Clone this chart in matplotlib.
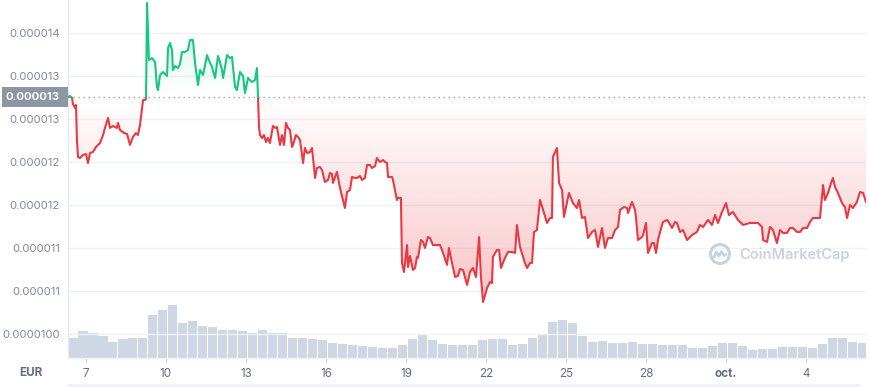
import numpy as np
import matplotlib
matplotlib.use("Agg")
import matplotlib.pyplot as plt
from matplotlib.patches import Rectangle, Circle
from matplotlib.lines import Line2D

plt.rcParams['font.family'] = ['Inter', 'DejaVu Sans']

# ---------------- data ----------------
# time in days of September (31 = 1 Oct)
day = [6.325, 6.40, 6.475, 6.51, 6.59, 6.625, 6.66, 6.70, 6.775, 6.89, 7.00, 7.075, 7.15, 7.26, 7.375,
       7.525, 7.64, 7.71, 7.825, 7.90, 8.01, 8.16, 8.20, 8.275, 8.425, 8.54, 8.65, 8.76, 8.875, 8.95,
       9.025, 9.14, 9.21, 9.25, 9.29, 9.325, 9.36, 9.475, 9.59, 9.66, 9.70, 9.775, 9.89, 10.04, 10.075,
       10.15, 10.225, 10.26, 10.34, 10.45, 10.525, 10.60, 10.71, 10.825, 10.90, 11.01, 11.09, 11.20,
       11.275, 11.39, 11.54, 11.575, 11.725, 11.84, 11.95, 12.025, 12.10, 12.14, 12.29, 12.40, 12.475,
       12.59, 12.66, 12.775, 12.89, 12.96, 13.075, 13.225, 13.34, 13.41, 13.45, 13.49, 13.525, 13.60,
       13.675, 13.75, 13.825, 13.90, 14.01, 14.09, 14.16, 14.275, 14.35, 14.425, 14.50, 14.575, 14.65,
       14.725, 14.76, 14.875, 14.95, 15.025, 15.14, 15.21, 15.29, 15.40, 15.475, 15.59, 15.66, 15.775,
       15.85, 15.96, 16.075, 16.15, 16.225, 16.26, 16.41, 16.525, 16.71, 16.79, 16.90, 16.975, 17.09,
       17.16, 17.275, 17.35, 17.46, 17.54, 17.65, 17.725, 17.84, 17.91, 18.025, 18.14, 18.21, 18.29,
       18.325, 18.475, 18.51, 18.66, 18.70, 18.81, 18.85, 18.925, 19.04, 19.075, 19.15, 19.26, 19.34,
       19.41, 19.45, 19.56, 19.64, 19.71, 19.825, 19.90, 20.01, 20.125, 20.275, 20.39, 20.54, 20.61,
       20.725, 20.84, 20.95, 21.025, 21.14, 21.29, 21.40, 21.51, 21.625, 21.74, 21.81, 21.89, 22.04,
       22.15, 22.225, 22.26, 22.41, 22.49, 22.56, 22.71, 22.825, 22.975, 23.09, 23.16, 23.275, 23.46,
       23.54, 23.65, 23.725, 23.80, 23.91, 24.025, 24.14, 24.29, 24.40, 24.475, 24.51, 24.66, 24.74,
       24.85, 24.925, 25.04, 25.11, 25.26, 25.41, 25.49, 25.60, 25.71, 25.825, 25.975, 26.09, 26.20,
       26.35, 26.46, 26.575, 26.725, 26.84, 26.95, 27.025, 27.175, 27.29, 27.325, 27.475, 27.59, 27.625,
       27.70, 27.85, 27.89, 28.00, 28.075, 28.225, 28.30, 28.375, 28.45, 28.60, 28.64, 28.79, 28.825,
       28.975, 29.09, 29.16, 29.275, 29.39, 29.54, 29.725, 29.91, 30.025, 30.14, 30.325, 30.475, 30.59,
       30.70, 30.85, 31.00, 31.11, 31.26, 31.45, 31.64, 31.90, 32.09, 32.20, 32.35, 32.39, 32.54, 32.65,
       32.76, 32.91, 33.025, 33.14, 33.29, 33.40, 33.51, 33.66, 33.775, 33.89, 34.04, 34.15, 34.26,
       34.41, 34.525, 34.60, 34.64, 34.71, 34.825, 34.94, 35.01, 35.09, 35.20, 35.35, 35.46, 35.54,
       35.65, 35.76, 35.91, 36.025, 36.14, 36.25]

# price in 1e-6 EUR
price = [13.256, 13.268, 13.244, 13.175, 13.128, 13.163, 12.756, 12.558, 12.547, 12.582, 12.593, 12.488,
         12.605, 12.616, 12.675, 12.721, 12.814, 12.896, 13.012, 12.896, 12.919, 12.896, 12.954, 12.872,
         12.837, 12.826, 12.698, 12.791, 12.837, 12.814, 12.930, 13.221, 13.221, 13.233, 14.349, 14.000,
         13.686, 13.709, 13.663, 13.372, 13.337, 13.512, 13.547, 13.500, 13.826, 13.884, 13.802, 13.570,
         13.616, 13.593, 13.640, 13.779, 13.779, 13.802, 13.919, 13.919, 13.651, 13.395, 13.570, 13.512,
         13.744, 13.709, 13.605, 13.477, 13.733, 13.663, 13.570, 13.477, 13.744, 13.709, 13.721, 13.372,
         13.337, 13.547, 13.500, 13.302, 13.477, 13.430, 13.454, 13.593, 13.256, 12.896, 12.814, 12.779,
         12.814, 12.733, 12.779, 12.721, 12.919, 12.896, 12.907, 12.698, 12.814, 12.698, 12.954, 12.896,
         12.872, 12.675, 12.698, 12.814, 12.791, 12.756, 12.488, 12.663, 12.605, 12.616, 12.663, 12.314,
         12.430, 12.442, 12.407, 12.268, 12.291, 12.372, 12.361, 12.256, 12.384, 12.198, 11.965, 12.151,
         12.175, 12.326, 12.314, 12.314, 12.337, 12.291, 12.314, 12.465, 12.465, 12.430, 12.454, 12.547,
         12.500, 12.523, 12.500, 12.488, 12.326, 12.326, 12.291, 12.058, 12.082, 12.082, 11.326, 11.221,
         11.535, 11.279, 11.407, 11.244, 11.268, 11.396, 11.384, 11.593, 11.570, 11.500, 11.628, 11.616,
         11.535, 11.535, 11.535, 11.442, 11.303, 11.500, 11.326, 11.163, 11.175, 11.256, 11.244, 11.070,
         11.221, 11.268, 11.163, 11.628, 11.163, 10.872, 11.035, 11.105, 11.093, 11.396, 11.477, 11.477,
         11.268, 11.384, 11.454, 11.454, 11.442, 11.768, 11.512, 11.326, 11.268, 11.326, 11.326, 11.686,
         11.709, 12.058, 11.942, 11.791, 11.849, 11.849, 12.558, 12.663, 12.256, 12.175, 11.861, 12.035,
         12.140, 12.023, 11.965, 12.058, 11.849, 11.861, 11.616, 11.686, 11.709, 11.512, 11.733, 11.500,
         11.616, 11.616, 11.709, 11.744, 11.942, 11.977, 11.965, 11.907, 12.035, 11.942, 11.849, 11.593,
         11.628, 11.651, 11.791, 11.442, 11.558, 11.558, 11.442, 11.593, 11.768, 11.803, 11.826, 11.814,
         11.733, 11.803, 11.791, 11.686, 11.709, 11.593, 11.651, 11.686, 11.768, 11.744, 11.826, 11.768,
         11.884, 11.791, 11.919, 12.023, 11.884, 11.919, 11.826, 11.768, 11.791, 11.791, 11.791, 11.744,
         11.593, 11.570, 11.744, 11.709, 11.558, 11.709, 11.675, 11.675, 11.733, 11.733, 11.686, 11.686,
         11.733, 11.733, 11.803, 11.849, 11.849, 11.849, 12.093, 12.233, 12.058, 12.140, 12.256, 12.314,
         12.209, 12.140, 12.023, 11.977, 11.849, 12.000, 11.965, 12.035, 12.151, 12.140, 12.035]

ref_price = 13.256          # opening price (dotted reference line)
ref_label = "0.000013"

# volume (relative units), one bar every 9 hours starting at 6.5125
vol_start = 6.5125
vol_step = 0.375
volume = [20, 27, 25, 22, 16, 19, 20, 20, 43, 48, 53, 35, 37, 32, 31, 28, 28, 27, 25, 28,
          25, 25, 20, 20, 19, 18, 15, 14, 13, 12, 11, 10, 10, 13, 19, 24, 18, 14, 13, 13,
          13, 18, 19, 19, 13, 14, 20, 23, 36, 38, 35, 22, 16, 17, 15, 15, 16, 14, 14, 13,
          13, 13, 10, 10, 12, 15, 15, 12, 8, 9, 9, 11, 11, 11, 10, 14, 20, 20, 16, 15]

ytick_vals = [14.0, 13.5, 13.0, 12.5, 12.0, 11.5, 11.0, 10.5]
ytick_labels = ["0.000014", "0.000013", "0.000013", "0.000012", "0.000012",
                "0.000011", "0.000011", "0.0000100"]
xtick_vals = [7, 10, 13, 16, 19, 22, 25, 28, 31, 34]
xtick_labels = ["7", "10", "13", "16", "19", "22", "25", "28", "oct.", "4"]

# ---------------- style ----------------
RED = "#ea3943"
GREEN = "#16c784"
GRID = "#eff1f5"
LABEL = "#808a9d"
XLABEL = "#616e85"
VOLC = "#cfd6e4"

W, H = 870, 387
fig = plt.figure(figsize=(W / 100, H / 100), dpi=100)
rect = [68 / W, 29 / H, 798 / W, 358 / H]

vax = fig.add_axes(rect)
ax = fig.add_axes(rect)
vax.set_zorder(0)
ax.set_zorder(1)
ax.patch.set_visible(False)

xlim = (6.325, 36.25)
ylim = (10.221, 14.384)

# volume bars
vd = vol_start + vol_step * np.arange(len(volume))
vax.bar(vd, volume, width=vol_step * 0.9, color=VOLC, align='center', linewidth=0)
vax.set_xlim(*xlim)
vax.set_ylim(0, 358)
vax.axis('off')

# price line with crossing interpolation
d = np.array(day)
p = np.array(price)
xs, ys = [d[0]], [p[0]]
for i in range(1, len(d)):
    if (p[i - 1] - ref_price) * (p[i] - ref_price) < 0:
        t = (ref_price - p[i - 1]) / (p[i] - p[i - 1])
        xs.append(d[i - 1] + t * (d[i] - d[i - 1]))
        ys.append(ref_price)
    xs.append(d[i])
    ys.append(p[i])
xs = np.array(xs)
ys = np.array(ys)
up = np.where(ys >= ref_price, ys, np.nan)
dn = np.where(ys <= ref_price, ys, np.nan)

# gradient fills
poly_dn = ax.fill_between(xs, np.minimum(ys, ref_price), ref_price, color='none', linewidth=0)
poly_up = ax.fill_between(xs, np.maximum(ys, ref_price), ref_price, color='none', linewidth=0)

n = 256
red_rgba = np.zeros((n, 1, 4))
red_rgba[..., :3] = matplotlib.colors.to_rgb(RED)
red_rgba[:, 0, 3] = np.linspace(0.30, 0.0, n)  # bottom -> top
ymin = p.min()
im1 = ax.imshow(red_rgba, extent=[xlim[0], xlim[1], ymin, ref_price], origin='lower',
                aspect='auto', zorder=1, interpolation='bilinear')
im1.set_clip_path(poly_dn.get_paths()[0], transform=ax.transData)

green_rgba = np.zeros((n, 1, 4))
green_rgba[..., :3] = matplotlib.colors.to_rgb(GREEN)
green_rgba[:, 0, 3] = np.linspace(0.0, 0.20, n)
ymax = p.max()
im2 = ax.imshow(green_rgba, extent=[xlim[0], xlim[1], ref_price, ymax], origin='lower',
                aspect='auto', zorder=1, interpolation='bilinear')
im2.set_clip_path(poly_up.get_paths()[0], transform=ax.transData)

ax.plot(xs, dn, color=RED, lw=1.5, zorder=3, solid_joinstyle='round')
ax.plot(xs, up, color=GREEN, lw=1.5, zorder=3, solid_joinstyle='round')

ax.axhline(ref_price, color="#9aa0ab", lw=1.0, ls=(0, (1, 2.6)), zorder=2)

ax.set_xlim(*xlim)
ax.set_ylim(*ylim)

# grid
for v in ytick_vals:
    ax.axhline(v, color=GRID, lw=1.0, zorder=0.5)

ax.set_yticks(ytick_vals)
ax.set_yticklabels(ytick_labels)
ax.tick_params(axis='y', length=0, pad=5.8, labelsize=8.2, labelcolor=LABEL)
ax.set_xticks(xtick_vals)
ax.set_xticklabels(xtick_labels)
ax.tick_params(axis='x', length=3, width=0.8, color="#c5cad3", pad=4.5,
               labelsize=8.4, labelcolor=XLABEL)
for lab in ax.get_xticklabels():
    if lab.get_text() == "oct.":
        lab.set_fontweight('bold')

for s in ['top', 'right']:
    ax.spines[s].set_visible(False)
ax.spines['left'].set_color("#e6e9ee")
ax.spines['left'].set_linewidth(1.0)
ax.spines['bottom'].set_color("#eef0f4")
ax.spines['bottom'].set_linewidth(1.0)

# reference price label box
fig.patches.append(Rectangle((2 / W, 1 - 107 / H), 66 / W, 20 / H, transform=fig.transFigure,
                             facecolor="#8e96a3", edgecolor='none', zorder=5))
fig.text(60 / W, 1 - 97.5 / H, ref_label, ha='right', va='center', color='white',
         fontsize=8.2, fontweight='bold', zorder=6)

# EUR label
fig.text(31 / W, 1 - 373 / H, "EUR", ha='center', va='center', color=XLABEL,
         fontsize=8.4, fontweight='bold')

# bottom slider band
fig.patches.append(Rectangle((68 / W, 0), 792 / W, 3 / H, transform=fig.transFigure,
                             facecolor="#eef2fb", edgecolor='none'))

# watermark
wm = "#cbd2de"
cx, cy, r = 720 / 100, (H - 254) / 100, 0.095
fig.patches.append(Circle((cx, cy), r, transform=fig.dpi_scale_trans, facecolor='none',
                          edgecolor=wm, linewidth=2.2))
mx = np.array([-0.06, -0.035, -0.01, 0.015, 0.04, 0.06])
my = np.array([-0.03, 0.02, -0.02, 0.025, -0.015, -0.005])
fig.lines.append(Line2D(cx + mx, cy + my, transform=fig.dpi_scale_trans, color=wm, lw=2.0,
                        solid_capstyle='round', solid_joinstyle='round'))
fig.text(739 / W, 1 - 255 / H, "CoinMarketCap", ha='left', va='center', color=wm,
         fontsize=10.5, fontweight='semibold')

fig.savefig("out.png", dpi=100)
